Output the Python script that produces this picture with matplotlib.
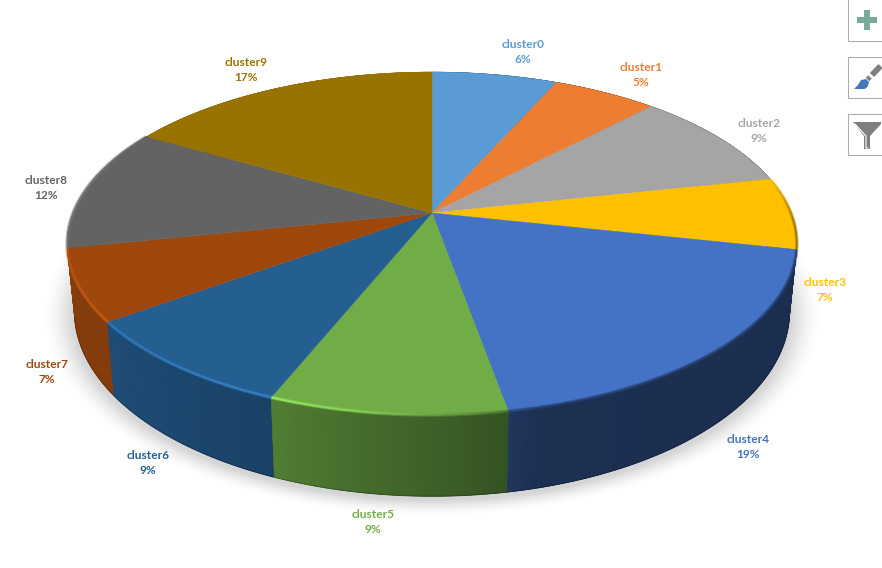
import numpy as np
import matplotlib
matplotlib.use('Agg')
import matplotlib.pyplot as plt
from matplotlib.collections import PolyCollection, LineCollection
from matplotlib.colors import to_rgb
from matplotlib.patches import Polygon, Rectangle

plt.rcParams['font.family'] = ['Lato', 'DejaVu Sans']

# shares, the labels are what the chart prints
categories = ['cluster0', 'cluster1', 'cluster2', 'cluster3', 'cluster4',
              'cluster5', 'cluster6', 'cluster7', 'cluster8', 'cluster9']
shares = [6.6, 5.5, 9.5, 6.8, 18.8, 8.9, 8.9, 6.75, 11.6, 16.65]
pct_labels = ['6%', '5%', '9%', '7%', '19%', '9%', '9%', '7%', '12%', '17%']
colors = ['#5B9BD5', '#ED7D31', '#A5A5A5', '#FFC000', '#4472C4',
          '#70AD47', '#255E91', '#9E480E', '#636363', '#997300']

# hand placed in the original, in pixels
label_pos = [(523, 52), (641, 75), (759, 131), (825, 290), (748, 447),
             (373, 522), (148, 463), (47, 372), (46, 188), (246, 70)]

# perspective of the pie top
cx, cy = 432, 213
R, B, k = 359, 166, 0.178


def top_xy(deg):
    t = np.radians(deg)
    x, y = np.sin(t), -np.cos(t)
    return cx + R * x / (1 - k * y), cy + B * y / (1 - k * y)


def bottom_xy(deg):
    x, y = top_xy(deg)
    return cx + 0.98 * (x - cx), 1.08 * y + 48


def scale(col, f):
    return tuple(np.clip(np.array(to_rgb(col)) * f, 0, 1))


fig = plt.figure(figsize=(8.82, 5.68), dpi=100)
ax = fig.add_axes([0, 0, 1, 1])

# soft shadow under the pie
xx, yy = np.meshgrid(np.arange(882) + 0.5, np.arange(568) + 0.5)
r = np.sqrt(((xx - cx) / 362) ** 2 + ((yy - 316) / 186) ** 2)
shadow = np.zeros((568, 882, 4))
shadow[..., :3] = 0.45
shadow[..., 3] = np.clip((1.075 - r) / 0.085, 0, 1) ** 1.6 * 0.30
ax.imshow(shadow, extent=(0, 882, 568, 0), zorder=1, aspect='auto')
ax.set_xlim(0, 882)
ax.set_ylim(568, 0)
ax.axis('off')

edges = np.concatenate([[0], np.cumsum(shares)]) / np.sum(shares) * 360

# shading of the side wall and the rim along the angle
wall_deg = [90, 102, 103, 165, 169.5, 170.5, 201.5, 202.5, 233.5, 234.5, 300]
wall_f = [0.5, 0.5, 0.40, 0.42, 0.47, 0.48, 0.72, 0.70, 0.82, 0.83, 0.9]
rim_deg = [78, 92, 105, 166, 176, 190, 204, 230, 258, 280, 300]
rim_f = [1.0, 0.6, 0.55, 0.55, 0.85, 1.25, 1.45, 1.3, 1.2, 1.25, 1.0]

# walls back to front so the nearer slice covers its neighbour
mids = (edges[:-1] + edges[1:]) / 2
order = np.argsort(-np.cos(np.radians(mids)))
for i in order:
    col = colors[i]
    a0, a1 = edges[i], edges[i + 1]
    n = max(int((a1 - a0) * 1.5), 2)
    ang = np.linspace(a0, a1, n + 1)
    tx, ty = top_xy(ang)
    bx, by = bottom_xy(ang)
    base = scale(col, np.interp(mids[i], wall_deg, wall_f))
    outline = np.column_stack([np.r_[tx, bx[::-1]], np.r_[ty, by[::-1]]])
    ax.add_patch(Polygon(outline, closed=True, facecolor=base, edgecolor=base, linewidth=0.3, zorder=2))
    quads = []
    wall_cols = []
    for j in range(n):
        quads.append([(tx[j], ty[j]), (tx[j + 1], ty[j + 1]), (bx[j + 1], by[j + 1]), (bx[j], by[j])])
        wall_cols.append(scale(col, np.interp((ang[j] + ang[j + 1]) / 2, wall_deg, wall_f)))
    ax.add_collection(PolyCollection(quads, facecolors=wall_cols, edgecolors=wall_cols, linewidths=0.4, zorder=2))
    # darker seam along the floor
    segs = [[(bx[j], by[j]), (bx[j + 1], by[j + 1])] for j in range(n)]
    ax.add_collection(LineCollection(segs, colors=[scale(c, 0.8) for c in wall_cols], linewidths=0.8, zorder=2))

for i, col in enumerate(colors):
    a0, a1 = edges[i], edges[i + 1]
    ang = np.linspace(a0, a1, 80)
    tx, ty = top_xy(ang)
    pts = np.column_stack([np.r_[cx, tx], np.r_[cy, ty]])
    ax.add_patch(Polygon(pts, closed=True, facecolor=col, edgecolor=col, linewidth=0.3, zorder=3))

    # lit or darkened rim, a wide faint pass and a narrow one, front part only
    keep = [j for j in range(79) if 78 <= ang[j] <= 300]
    segs = [[(tx[j], ty[j]), (tx[j + 1], ty[j + 1])] for j in keep]
    seg_cols = [scale(col, np.interp(ang[j], rim_deg, rim_f)) for j in keep]
    if segs:
        ax.add_collection(LineCollection(segs, colors=seg_cols, linewidths=2.6, alpha=0.45, zorder=4))
        ax.add_collection(LineCollection(segs, colors=seg_cols, linewidths=1.2, alpha=0.8, zorder=4))

for name, pct, col, (lx, ly) in zip(categories, pct_labels, colors, label_pos):
    ax.text(lx, ly, name + '\n' + pct, color=col, fontsize=8.6, fontweight='bold', ha='center', va='center',
            linespacing=1.4, zorder=6)

# chart buttons of the spreadsheet on the right edge
for y0, y1 in [(-2, 40.5), (56.5, 97.5), (113.5, 154.5)]:
    ax.add_patch(Rectangle((847.5, y0), 40, y1 - y0, facecolor='white', edgecolor='#ABABAB', linewidth=0.75, zorder=7))

ax.add_patch(Rectangle((857, 17), 20, 6, facecolor='#7AAB98', edgecolor='none', zorder=8))
ax.add_patch(Rectangle((864, 10), 6, 20, facecolor='#7AAB98', edgecolor='none', zorder=8))

ax.plot([880.5, 872], [66, 75], color='#7F7F7F', lw=4.2, solid_capstyle='butt', zorder=8)
ax.plot([870, 867.5], [77, 79.5], color='#7F7F7F', lw=3.5, solid_capstyle='butt', zorder=8)
ax.add_patch(Polygon([(854, 89), (858, 85), (861, 80), (866, 79), (869, 82), (868, 86), (865, 89)],
                     closed=True, facecolor='#4478BE', edgecolor='none', zorder=8))

ax.add_patch(Polygon([(853, 122), (881, 122), (881, 124), (870, 136), (870, 149), (864, 149), (864, 136)],
                     closed=True, facecolor='#7F7F7F', edgecolor='none', zorder=8))
ax.plot([855, 866, 866, 868], [124, 136, 148, 148], color='white', lw=0.8, zorder=9)

fig.savefig('out.png', dpi=100)
